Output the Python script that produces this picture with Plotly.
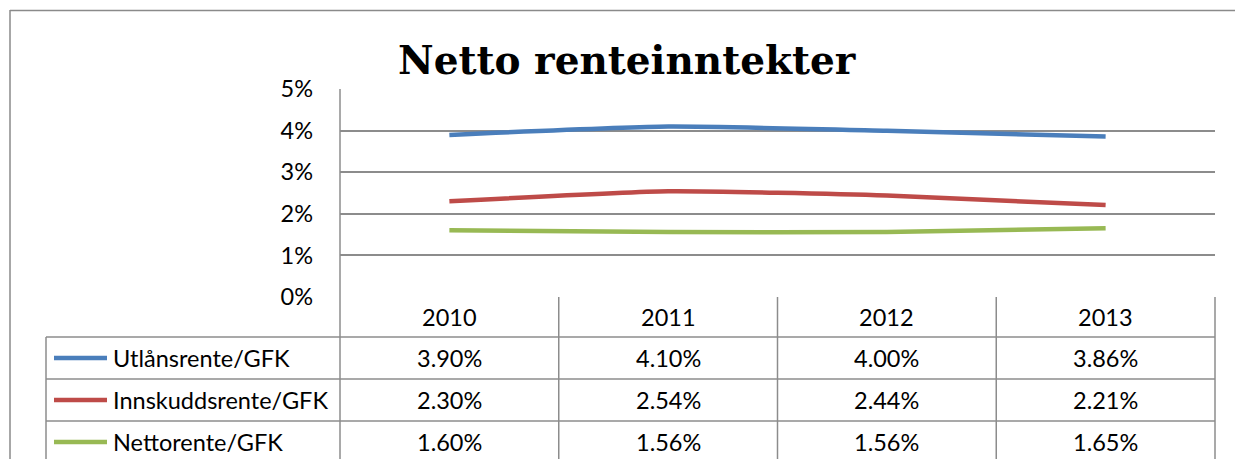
import plotly.graph_objects as go

years = ["2010", "2011", "2012", "2013"]
series_names = ["Utlånsrente/GFK", "Innskuddsrente/GFK", "Nettorente/GFK"]
utlan = [3.90, 4.10, 4.00, 3.86]
innskudd = [2.30, 2.54, 2.44, 2.21]
netto = [1.60, 1.56, 1.56, 1.65]
y_ticks = [0, 1, 2, 3, 4, 5]
title_text = "Netto renteinntekter"

series_values = [utlan, innskudd, netto]
colors = ["#4A7EBB", "#BE4B48", "#98B954"]

W, H = 1235, 459
def px(x):
    return x / W
def py(y):
    return 1 - y / H

FONT = "Lato"
GRID = "#8c8c8c"
fs = 23.5

fig = go.Figure()
xpos = list(range(len(years)))
for name, vals, c in zip(series_names, series_values, colors):
    fig.add_trace(go.Scatter(x=xpos, y=vals, mode="lines", name=name,
                             line=dict(color=c, width=4.5, shape="spline", smoothing=0.5),
                             showlegend=False, hoverinfo="skip"))

plot_l, plot_r, plot_t, plot_b = 340, 1215, 89, 297
row_edges = [297, 337, 379, 421, 463]

shapes = []
# outer chart border
shapes.append(dict(type="line", xref="paper", yref="paper", x0=px(10), x1=px(10), y0=py(10), y1=py(470),
                   line=dict(color="#8a8a8a", width=1.5)))
shapes.append(dict(type="line", xref="paper", yref="paper", x0=px(10), x1=px(1240), y0=py(10.5), y1=py(10.5),
                   line=dict(color="#8a8a8a", width=1.5)))
# left axis line through table
shapes.append(dict(type="line", xref="paper", yref="paper", x0=px(plot_l), x1=px(plot_l), y0=py(plot_t), y1=py(470),
                   line=dict(color=GRID, width=1.5)))
# column dividers
n = len(years)
for i in range(1, n + 1):
    xx = plot_l + (plot_r - plot_l) * i / n
    shapes.append(dict(type="line", xref="paper", yref="paper", x0=px(xx), x1=px(xx), y0=py(plot_b), y1=py(470),
                       line=dict(color=GRID, width=1.5)))
# row lines
for ry in row_edges[1:4]:
    shapes.append(dict(type="line", xref="paper", yref="paper", x0=px(46), x1=px(plot_r), y0=py(ry), y1=py(ry),
                       line=dict(color=GRID, width=1.5)))
# legend column left edge
shapes.append(dict(type="line", xref="paper", yref="paper", x0=px(46), x1=px(46), y0=py(337), y1=py(470),
                   line=dict(color=GRID, width=1.5)))

annotations = []
# header row
for i, yr in enumerate(years):
    annotations.append(dict(x=i, xref="x", y=py((row_edges[0] + row_edges[1]) / 2), yref="paper",
                            text=yr, showarrow=False, font=dict(family=FONT, size=fs, color="#000"),
                            xanchor="center", yanchor="middle"))
for r, (name, vals, c) in enumerate(zip(series_names, series_values, colors)):
    yc = (row_edges[r + 1] + row_edges[r + 2]) / 2
    shapes.append(dict(type="line", xref="paper", yref="paper", x0=px(54), x1=px(107), y0=py(yc), y1=py(yc),
                       line=dict(color=c, width=4.5)))
    annotations.append(dict(x=px(111), xref="paper", y=py(yc), yref="paper", text=name, showarrow=False,
                            font=dict(family=FONT, size=fs, color="#000"), xanchor="left", yanchor="middle"))
    for i, v in enumerate(vals):
        annotations.append(dict(x=i, xref="x", y=py(yc), yref="paper", text=f"{v:.2f}%", showarrow=False,
                                font=dict(family=FONT, size=fs, color="#000"), xanchor="center", yanchor="middle"))
# title
annotations.append(dict(x=px(627), xref="paper", y=py(60), yref="paper", text=f"<b>{title_text}</b>",
                        showarrow=False, font=dict(family="DejaVu Serif", size=39, color="#000"),
                        xanchor="center", yanchor="middle"))

fig.update_layout(
    width=W, height=H, margin=dict(l=0, r=0, t=0, b=0, pad=0), autosize=False,
    paper_bgcolor="white", plot_bgcolor="white",
    xaxis=dict(domain=[px(plot_l), px(plot_r)], range=[-0.5, n - 0.5], showticklabels=False,
               showgrid=False, zeroline=False, showline=False, fixedrange=True, automargin=False),
    yaxis=dict(domain=[py(plot_b), py(plot_t)], range=[-0.005, 5.005], tickvals=y_ticks,
               ticktext=[f"{t}%" for t in y_ticks], showgrid=True, gridcolor=GRID, gridwidth=1.5,
               zeroline=False, showline=False, ticklabelstandoff=26, automargin=False, fixedrange=True,
               tickfont=dict(family=FONT, size=fs, color="#000")),
    shapes=shapes, annotations=annotations,
)
fig.write_html("out.html", config={"displayModeBar": False},
               post_script="document.body.style.margin='0';document.body.style.overflow='hidden';")
